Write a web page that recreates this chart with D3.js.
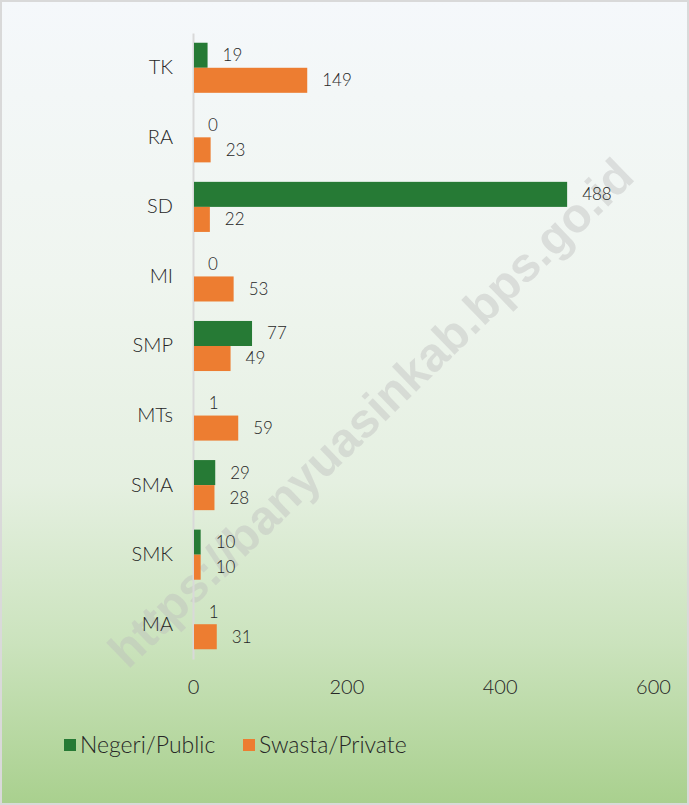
<!DOCTYPE html>
<html><head><meta charset="utf-8">
<script src="https://cdn.jsdelivr.net/npm/d3@7"></script>
<style>html,body{margin:0;padding:0;background:#fff;}svg{display:block;}</style>
</head><body>
<script>
const categories = ["TK","RA","SD","MI","SMP","MTs","SMA","SMK","MA"];
const negeri = [19,0,488,0,77,1,29,10,1];
const swasta = [149,23,22,53,49,59,28,10,31];
const seriesNames = ["Negeri/Public","Swasta/Private"];
const xTicks = [0,200,400,600];
const watermarkText = "https://banyuasinkab.bps.go.id";

const W = 689, H = 805;
const FONT = "Lato,'Open Sans',sans-serif";
const colors = ["#267A35","#ED7D31"];
const TXT = "#262626";

const svg = d3.select("body").append("svg").attr("width",W).attr("height",H);
const defs = svg.append("defs");
const grad = defs.append("linearGradient").attr("id","bg").attr("x1",0).attr("y1",0).attr("x2",0).attr("y2",1);
[[0,"#f5f8fb"],[0.35,"#eff5ef"],[0.6,"#e5f0e1"],[0.8,"#cbe3bd"],[1,"#a9d08e"]].forEach(s=>grad.append("stop").attr("offset",s[0]).attr("stop-color",s[1]));

svg.append("rect").attr("x",1).attr("y",1).attr("width",W-2).attr("height",H-2)
  .attr("fill","url(#bg)").attr("stroke","#d9d9d9").attr("stroke-width",2);

const x = d3.scaleLinear().domain([0,600]).range([193,653]);
const y = d3.scaleBand().domain(categories).range([33,659]).paddingInner(0.28).paddingOuter(0.14);
const y1 = d3.scaleBand().domain([0,1]).range([0,y.bandwidth()]);

// watermark
svg.append("text").attr("transform","translate(128,670) rotate(-44)")
  .attr("font-family","'Liberation Sans',Arial,sans-serif").attr("font-weight","bold")
  .attr("font-size",48).attr("fill","#bdbdbd").attr("fill-opacity",0.42)
  .text(watermarkText);

// axis
const yAxis = d3.axisLeft(y).tickSize(0).tickPadding(20);
const gy = svg.append("g").attr("transform",`translate(${x(0)},0)`).call(yAxis);
gy.select(".domain").attr("stroke","#d9d9d9").attr("stroke-width",2);
gy.selectAll("text").attr("font-family",FONT).attr("font-weight",300).attr("font-size",20).attr("fill",TXT);

const xAxis = d3.axisBottom(x).tickValues(xTicks).tickSize(0).tickPadding(0);
const gx = svg.append("g").attr("transform","translate(0,680)").call(xAxis);
gx.select(".domain").remove();
gx.selectAll("text").attr("font-family",FONT).attr("font-weight",300).attr("font-size",20).attr("fill",TXT);

const data = categories.map((c,i)=>({c, vals:[negeri[i],swasta[i]]}));
const groups = svg.append("g").selectAll("g").data(data).join("g")
  .attr("transform",d=>`translate(0,${y(d.c)})`);
groups.selectAll("rect").data(d=>d.vals.map((v,k)=>({v,k}))).join("rect")
  .attr("x",x(0)+1).attr("y",d=>y1(d.k))
  .attr("width",d=>Math.max(0,x(d.v)-x(0)-1)).attr("height",y1.bandwidth())
  .attr("fill",d=>colors[d.k]);
groups.selectAll("text").data(d=>d.vals.map((v,k)=>({v,k}))).join("text")
  .attr("x",d=>x(d.v)+15).attr("y",d=>y1(d.k)+y1.bandwidth()/2).attr("dy","0.35em")
  .attr("font-family",FONT).attr("font-weight",300).attr("font-size",17).attr("fill",TXT)
  .text(d=>d.v);

// legend
const lg = svg.append("g").attr("transform","translate(64,745)");
const items = [{n:seriesNames[0],c:colors[0],x:0},{n:seriesNames[1],c:colors[1],x:179}];
items.forEach(it=>{
  lg.append("rect").attr("x",it.x).attr("y",-6).attr("width",12).attr("height",12).attr("fill",it.c);
  lg.append("text").attr("x",it.x+16).attr("y",0).attr("dy","0.35em")
    .attr("font-family",FONT).attr("font-weight",300).attr("font-size",23).attr("fill",TXT).text(it.n);
});
</script>
</body></html>
